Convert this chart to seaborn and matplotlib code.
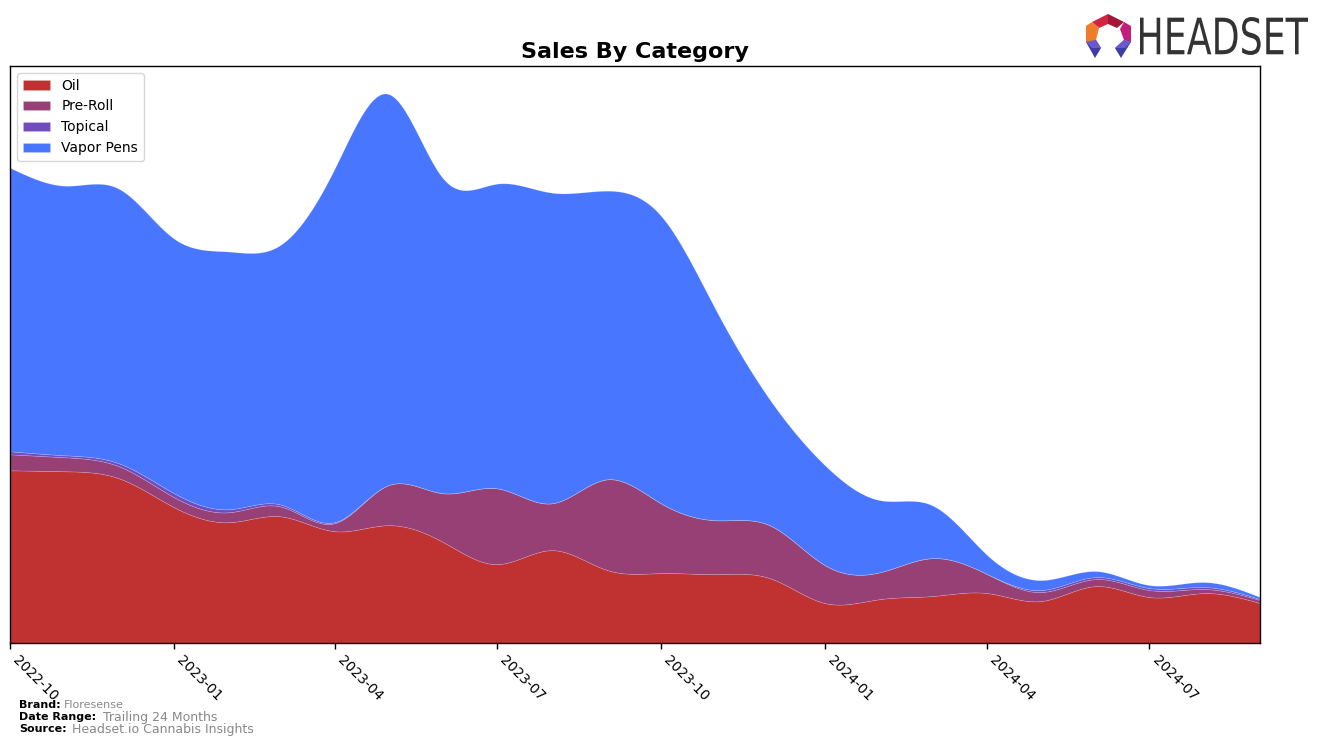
import numpy as np
import pandas as pd
import matplotlib
matplotlib.use("Agg")
import matplotlib.pyplot as plt
import matplotlib.dates as mdates
from matplotlib.patches import Polygon, PathPatch
from matplotlib.textpath import TextPath
from matplotlib.font_manager import FontProperties
from matplotlib.transforms import Affine2D
import seaborn as sns

# ---- data (monthly, arbitrary sales units) ----
months = pd.date_range("2022-10-01", periods=24, freq="MS")
categories = ["Oil", "Pre-Roll", "Topical", "Vapor Pens"]
oil = [173, 172, 165, 136, 121, 127, 112, 118, 101, 79, 93, 73,
       70, 69, 65, 40, 44, 47, 50, 42, 57, 46, 50, 40]
pre_roll = [16, 14, 12, 10, 10, 10, 8, 40, 49, 76, 47, 91,
            70, 54, 53, 38, 27, 38, 19, 9, 7, 7, 4, 3]
topical = [3, 2, 3, 4, 3, 2, 1, 0, 0, 0, 0, 0,
           0, 0, 0, 0, 0, 0, 0, 2, 2, 2, 2, 1]
vapor_pens = [284, 270, 275, 255, 258, 259, 354, 392, 315, 305, 311, 289,
              288, 210, 126, 100, 72, 53, 19, 10, 6, 3, 5, 2]
colors = ["#C03232", "#964076", "#704CBE", "#4876FF"]

footer_brand = "Floresense"
footer_range = "Trailing 24 Months"
footer_source = "Headset.io Cannabis Insights"


def natural_spline(x, y, xs):
    x = np.asarray(x, float)
    y = np.asarray(y, float)
    n = len(x)
    h = np.diff(x)
    A = np.zeros((n, n))
    b = np.zeros(n)
    A[0, 0] = 1
    A[-1, -1] = 1
    for i in range(1, n - 1):
        A[i, i - 1] = h[i - 1]
        A[i, i] = 2 * (h[i - 1] + h[i])
        A[i, i + 1] = h[i]
        b[i] = 6 * ((y[i + 1] - y[i]) / h[i] - (y[i] - y[i - 1]) / h[i - 1])
    M = np.linalg.solve(A, b)
    idx = np.clip(np.searchsorted(x, xs) - 1, 0, n - 2)
    x0, x1 = x[idx], x[idx + 1]
    hh = x1 - x0
    t0 = x1 - xs
    t1 = xs - x0
    return (M[idx] * t0 ** 3 / (6 * hh) + M[idx + 1] * t1 ** 3 / (6 * hh)
            + (y[idx] / hh - M[idx] * hh / 6) * t0
            + (y[idx + 1] / hh - M[idx + 1] * hh / 6) * t1)


sns.set_theme(style="white")
plt.rcParams["font.family"] = ["DejaVu Sans"]
plt.rcParams["text.color"] = "black"
plt.rcParams["xtick.color"] = "black"

W, H = 1324, 745
fig = plt.figure(figsize=(W / 100, H / 100), dpi=100)
ax = fig.add_axes([10 / W, 1 - 643 / H, 1250 / W, 577 / H])

xnum = mdates.date2num(months.to_pydatetime())
xs = np.linspace(xnum[0], xnum[-1], 800)
series = [oil, pre_roll, topical, vapor_pens]
smooth = [np.clip(natural_spline(xnum, s, xs), 0, None) for s in series]

ax.stackplot(mdates.num2date(xs), *smooth, colors=colors, labels=categories,
             edgecolor=(1, 1, 1, 0.2), linewidth=0.5)

total = np.sum(smooth, axis=0)
ax.set_xlim(mdates.num2date(xnum[0]), mdates.num2date(xnum[-1]))
ax.set_ylim(0, total.max() * 1.05)
ax.set_yticks([])
ax.xaxis.set_major_locator(mdates.MonthLocator(bymonth=[1, 4, 7, 10]))
ax.xaxis.set_major_formatter(mdates.DateFormatter("%Y-%m"))
ax.tick_params(axis="x", bottom=True, length=4, width=1, color="black",
               labelsize=10, labelcolor="black")
for lab in ax.get_xticklabels():
    lab.set_rotation(-45)
    lab.set_ha("left")
for sp in ax.spines.values():
    sp.set_color("black")
    sp.set_linewidth(1)

ax.set_title("Sales By Category", fontsize=16, fontweight="bold", pad=6,
             color="black")
leg = ax.legend(loc="upper left", fontsize=10, frameon=True, handlelength=2,
                borderaxespad=0.5)
leg.get_frame().set_edgecolor("#cccccc")
for t in leg.get_texts():
    t.set_color("black")


# footer
def ftxt(px, py, s, **kw):
    fig.text(px / W, 1 - py / H, s, va="center", ha="left", **kw)


ftxt(19, 705, "Brand:", fontsize=8, fontweight="bold", color="black")
ftxt(64, 705, footer_brand, fontsize=8, color="#888888")
ftxt(19, 717, "Date Range:", fontsize=8, fontweight="bold", color="black")
ftxt(103, 717, footer_range, fontsize=9, color="#888888")
ftxt(19, 729, "Source:", fontsize=8, fontweight="bold", color="black")
ftxt(72, 729, footer_source, fontsize=9, color="#888888")

# logo wordmark, fitted into its box
tp = TextPath((0, 0), "HEADSET", size=40, prop=FontProperties(family="DejaVu Sans"))
bb = tp.get_extents()
x0p, x1p, ytop, ybot = 1140, 1308, 17, 55
sx = (x1p - x0p) / bb.width / W
sy = (ybot - ytop) / bb.height / H
tr = (Affine2D().translate(-bb.x0, -bb.y0).scale(sx, sy)
      .translate(x0p / W, 1 - ybot / H))
fig.patches.append(PathPatch(tr.transform_path(tp), transform=fig.transFigure,
                             facecolor="#333333", edgecolor="none"))


def P(pts, c):
    fig.patches.append(Polygon([(x / W, 1 - y / H) for x, y in pts],
                               closed=True, transform=fig.transFigure,
                               facecolor=c, edgecolor="none"))


P([(1092, 22), (1108, 14), (1108, 24), (1099, 28)], "#D0253F")
P([(1108, 14), (1124, 22), (1117, 28), (1108, 24)], "#A3163A")
P([(1124, 22), (1131, 26), (1131, 42), (1124, 40), (1120, 29)], "#C0207A")
P([(1092, 22), (1099, 28), (1096, 40), (1086, 42), (1086, 26)], "#F07B2A")
P([(1086, 42), (1096, 40), (1101, 48), (1095, 58)], "#3C3CA8")
P([(1131, 42), (1121, 58), (1115, 48), (1124, 40)], "#3C3CA8")
P([(1086, 42), (1096, 40), (1101, 48), (1092, 48)], "#6A5ACD")
P([(1131, 42), (1124, 40), (1115, 48), (1125, 48)], "#6A5ACD")

fig.savefig("out.png", dpi=100)
